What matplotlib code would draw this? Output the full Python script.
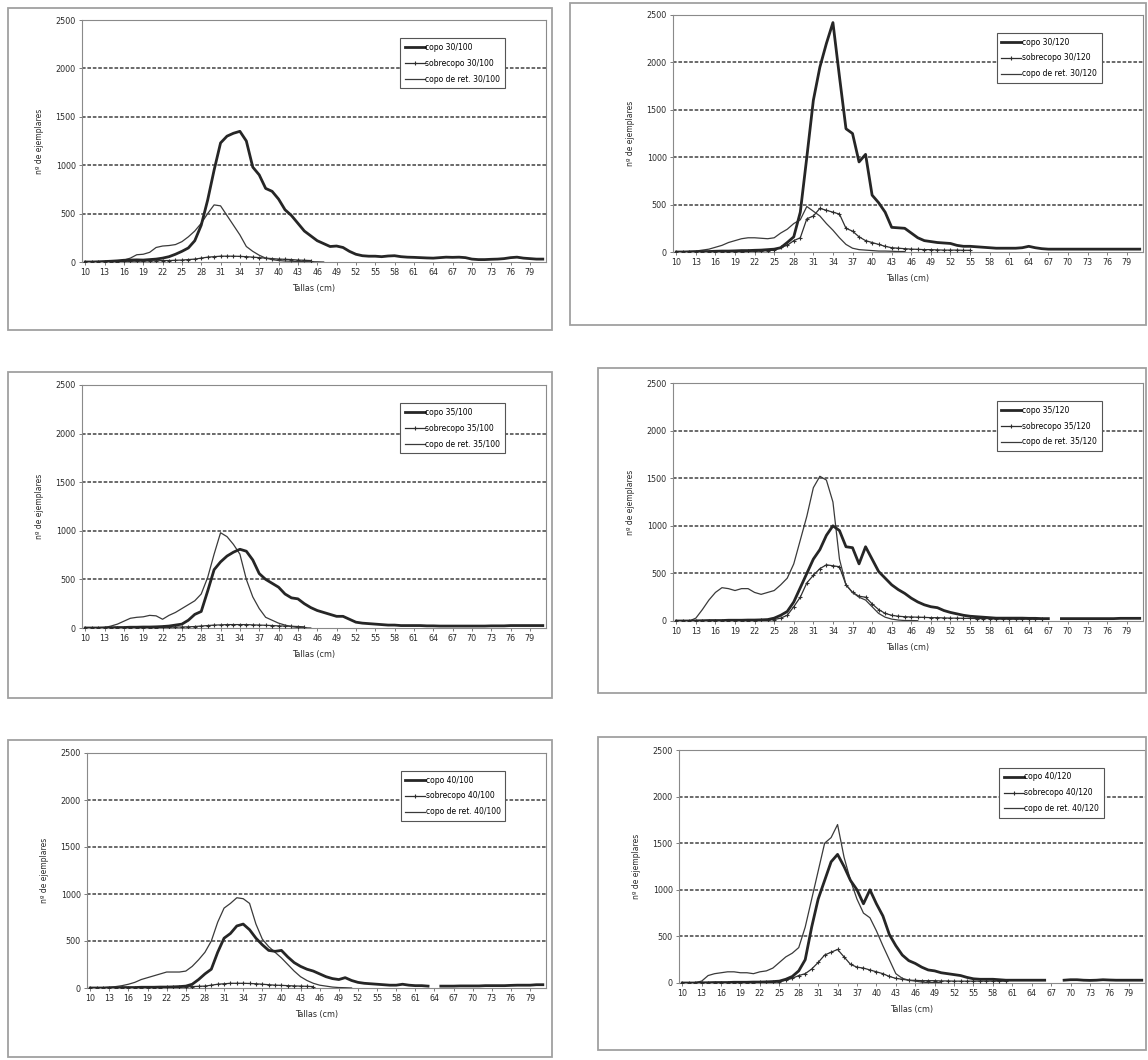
import numpy as np
import matplotlib.pyplot as plt
from matplotlib.patches import Rectangle

nan = np.nan

# size classes (cm) on the x axis
tallas = list(range(10, 82))
tick_tallas = list(range(10, 80, 3))

# --- 30/100 ---
copo_30_100 = [0, 0, 2, 5, 8, 12, 18, 20, 22, 20,
               25, 30, 40, 55, 80, 110, 145, 220, 380, 640,
               950, 1230, 1300, 1330, 1350, 1250, 980, 900, 760, 730,
               650, 540, 480, 400, 320, 270, 220, 190, 160, 165,
               150, 110, 80, 65, 60, 60, 55, 62, 65, 55,
               50, 48, 45, 42, 40, 45, 50, 48, 50, 45,
               30, 25, 25, 28, 30, 35, 45, 50, 40, 35,
               30, 30]
sobre_30_100 = [0, 0, 2, 3, 5, 5, 8, 8, 10, 10,
                12, 12, 15, 15, 18, 20, 25, 30, 40, 50,
                55, 60, 60, 60, 58, 55, 50, 45, 40, 35,
                30, 28, 25, 20, 18, 15] + [nan] * 36
ret_30_100 = [0, 0, 0, 2, 5, 10, 20, 40, 75, 80,
              100, 150, 165, 170, 180, 210, 260, 320, 400, 500,
              590, 580, 480, 380, 280, 160, 110, 70, 40, 25,
              15, 10, 8, 5, 5, 3, 2, 0] + [nan] * 34

# --- 30/120 ---
copo_30_120 = [0, 0, 2, 3, 5, 5, 8, 10, 10, 12,
               15, 15, 18, 20, 25, 30, 45, 100, 160, 420,
               1000, 1600, 1950, 2200, 2420, 1850, 1300, 1250, 950, 1030,
               600, 520, 420, 260, 255, 250, 200, 150, 120, 110,
               100, 95, 90, 70, 60, 60, 55, 50, 45, 40,
               40, 40, 40, 45, 60, 45, 35, 30, 30, 30,
               30, 30, 30, 30, 30, 30, 30, 30, 30, 30,
               30, 30]
sobre_30_120 = [0, 0, 0, 2, 3, 5, 5, 5, 5, 5,
                5, 8, 10, 10, 15, 20, 50, 70, 120, 150,
                350, 380, 460, 440, 420, 400, 250, 220, 160, 120,
                100, 80, 60, 45, 40, 35, 30, 28, 25, 25,
                22, 20, 20, 20, 18, 18] + [nan] * 26
ret_30_120 = [0, 0, 5, 10, 20, 30, 50, 70, 100, 120,
              140, 150, 150, 145, 140, 150, 200, 240, 300, 340,
              480, 430, 380, 300, 230, 150, 80, 40, 25, 20,
              15, 10, 10, 8, 5, 5] + [nan] * 36

# --- 35/100 ---
copo_35_100 = [0, 0, 0, 2, 3, 5, 5, 8, 8, 10,
               10, 12, 15, 20, 30, 40, 80, 140, 170, 380,
               600, 680, 740, 780, 810, 790, 700, 560, 500, 460,
               420, 350, 310, 300, 250, 210, 180, 160, 140, 120,
               120, 90, 60, 50, 45, 40, 35, 30, 30, 25,
               25, 25, 25, 22, 22, 20, 20, 20, 20, 20,
               20, 20, 20, 22, 22, 22, 25, 25, 25, 25,
               25, 25]
sobre_35_100 = [0, 0, 0, 0, 2, 2, 3, 3, 5, 5,
                5, 5, 8, 8, 10, 10, 12, 15, 20, 25,
                30, 32, 35, 35, 35, 35, 32, 30, 28, 25,
                22, 20, 18, 15, 12] + [nan] * 37
ret_35_100 = [0, 0, 0, 5, 20, 40, 70, 100, 110, 115,
              130, 125, 90, 130, 160, 200, 240, 280, 350, 520,
              760, 980, 940, 860, 760, 500, 320, 200, 110, 80,
              50, 30, 15, 5, 2, 0] + [nan] * 36

# --- 35/120 ---
copo_35_120 = [0, 0, 0, 2, 3, 5, 5, 5, 8, 8,
               8, 10, 10, 12, 15, 30, 60, 100, 200, 350,
               500, 650, 750, 900, 1000, 950, 780, 770, 600, 780,
               650, 520, 450, 380, 330, 290, 240, 200, 170, 150,
               140, 110, 90, 75, 60, 50, 45, 40, 35, 30,
               30, 30, 30, 30, 28, 28, 25, 25, nan, 25,
               25, 25, 25, 25, 25, 25, 25, 25, 28, 28,
               28, 28]
sobre_35_120 = [0, 0, 0, 0, 2, 2, 3, 3, 3, 5,
                5, 5, 5, 8, 10, 15, 30, 60, 150, 250,
                400, 480, 550, 590, 580, 570, 380, 300, 260, 250,
                180, 120, 80, 60, 50, 45, 42, 40, 38, 35,
                35, 32, 30, 30, 28, 28, 25, 25, 25, 22,
                22, 20, 20, 20, 20, 20, 20] + [nan] * 15
ret_35_120 = [0, 0, 0, 30, 120, 220, 300, 350, 340, 320,
              340, 340, 300, 280, 300, 320, 380, 450, 600, 850,
              1100, 1400, 1520, 1480, 1250, 650, 380, 300, 250, 220,
              150, 80, 40, 20, 10, 5, 5, 3] + [nan] * 34

# --- 40/100 ---
copo_40_100 = [0, 0, 0, 2, 3, 5, 5, 5, 8, 8,
               8, 10, 10, 12, 15, 20, 40, 90, 150, 200,
               380, 530, 580, 660, 680, 620, 530, 460, 400, 390,
               400, 330, 270, 230, 200, 180, 150, 120, 100, 90,
               110, 80, 60, 50, 45, 40, 35, 30, 30, 40,
               30, 25, 25, 20, nan, 20, 20, 20, 22, 22,
               22, 22, 25, 25, 25, 25, 28, 30, 30, 30,
               35, 35]
sobre_40_100 = [0, 0, 0, 0, 2, 2, 3, 3, 5, 5,
                5, 5, 8, 8, 10, 12, 15, 18, 20, 30,
                40, 45, 50, 50, 50, 48, 45, 40, 35, 30,
                28, 25, 22, 20, 18, 15] + [nan] * 36
ret_40_100 = [0, 0, 3, 8, 15, 25, 40, 60, 90, 110,
              130, 150, 170, 170, 170, 180, 230, 300, 380, 500,
              700, 850, 900, 960, 950, 900, 680, 520, 440, 380,
              320, 250, 180, 120, 80, 50, 30, 20, 10, 5,
              3, 0] + [nan] * 30

# --- 40/120 ---
copo_40_120 = [0, 0, 0, 2, 3, 5, 5, 5, 8, 8,
               8, 10, 10, 12, 15, 20, 40, 70, 130, 250,
               600, 900, 1100, 1300, 1380, 1250, 1100, 1000, 850, 1000,
               850, 720, 520, 400, 300, 240, 210, 170, 140, 130,
               110, 100, 90, 80, 60, 45, 40, 40, 40, 35,
               30, 30, 30, 30, 30, 30, 30, nan, nan, 30,
               35, 35, 30, 28, 30, 35, 32, 30, 30, 30,
               30, 30]
sobre_40_120 = [0, 0, 0, 0, 2, 2, 3, 3, 5, 5,
                5, 5, 8, 8, 10, 15, 30, 50, 80, 100,
                150, 220, 300, 330, 360, 280, 200, 170, 160, 140,
                120, 100, 70, 50, 40, 30, 28, 25, 25, 25,
                22, 22, 20, 20, 20, 20, 20, 20, 20, 20,
                20] + [nan] * 21
ret_40_120 = [0, 0, 5, 20, 80, 100, 110, 120, 120, 110,
              110, 100, 120, 130, 160, 220, 280, 320, 380, 600,
              900, 1200, 1500, 1560, 1700, 1350, 1100, 900, 750, 700,
              560, 400, 250, 100, 50, 30, 20, 10, 5, 5,
              3] + [nan] * 31

W, H = 1148, 1060
fig = plt.figure(figsize=(W / 100, H / 100), dpi=100)
fig.patch.set_facecolor('white')


def px_axes(l, t, r, b):
    return fig.add_axes([l / W, 1 - b / H, (r - l) / W, (b - t) / H])


def px_frame(l, t, r, b):
    fig.add_artist(Rectangle((l / W, 1 - b / H), (r - l) / W, (b - t) / H,
                             transform=fig.transFigure, fill=False,
                             ec='#a0a0a0', lw=1.3))


def draw_panel(ax, copo, sobre, ret, tag):
    for y in range(500, 2501, 500):
        ax.axhline(y, color='#5e5e5e', lw=1.3, ls=(0, (2, 1)), zorder=1)
    ax.plot(tallas, copo, color='#262626', lw=2.0, label='copo ' + tag, zorder=4)
    ax.plot(tallas, sobre, color='#2e2e2e', lw=0.9, marker='+', ms=3, mew=0.8,
            label='sobrecopo ' + tag, zorder=3)
    ax.plot(tallas, ret, color='#3a3a3a', lw=0.9, label='copo de ret. ' + tag, zorder=3)

    ax.set_xlim(9.5, 81.5)
    ax.set_ylim(0, 2500)
    ax.set_yticks(range(0, 2501, 500))
    ax.set_xticks(tick_tallas)
    ax.tick_params(labelsize=5.8, length=2.5, width=0.6, color='#666',
                   labelcolor='#2a2a2a', pad=2)
    for s in ax.spines.values():
        s.set_color('#8a8a8a')
        s.set_linewidth(0.8)
    ax.set_xlabel('Tallas (cm)', fontsize=5.8, color='#2a2a2a', labelpad=5)
    ax.set_ylabel('nº de ejemplares', fontsize=5.5, color='#2a2a2a', labelpad=8)
    leg = ax.legend(loc='upper right', bbox_to_anchor=(0.92, 0.94), fontsize=5.5,
                    frameon=True, fancybox=False, framealpha=1, edgecolor='#555',
                    handlelength=2.6, handletextpad=0.1, labelspacing=0.9,
                    borderpad=0.6)
    leg.get_frame().set_linewidth(0.8)


panels = [
    ((82, 20, 546, 262), (8, 8, 552, 330), copo_30_100, sobre_30_100, ret_30_100, '30/100'),
    ((673, 15, 1143, 252), (570, 3, 1146, 325), copo_30_120, sobre_30_120, ret_30_120, '30/120'),
    ((82, 385, 546, 628), (8, 372, 552, 698), copo_35_100, sobre_35_100, ret_35_100, '35/100'),
    ((673, 383, 1143, 621), (598, 368, 1146, 693), copo_35_120, sobre_35_120, ret_35_120, '35/120'),
    ((87, 753, 546, 988), (8, 740, 552, 1057), copo_40_100, sobre_40_100, ret_40_100, '40/100'),
    ((679, 750, 1145, 983), (598, 737, 1146, 1050), copo_40_120, sobre_40_120, ret_40_120, '40/120'),
]

for box, frame, copo, sobre, ret, tag in panels:
    px_frame(*frame)
    ax = px_axes(*box)
    draw_panel(ax, copo, sobre, ret, tag)

fig.savefig('out.png', dpi=100)
